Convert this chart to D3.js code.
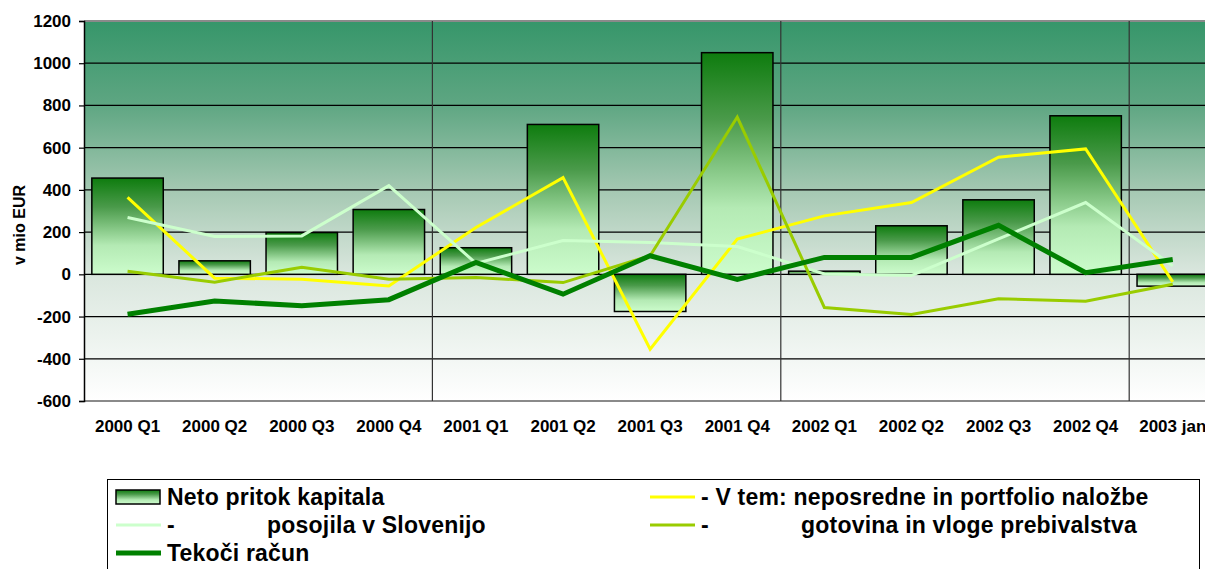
<!DOCTYPE html>
<html>
<head>
<meta charset="utf-8">
<script src="https://cdn.jsdelivr.net/npm/d3@7"></script>
<style>
  body { margin: 0; background: #fff; overflow: hidden; }
  text { font-family: "Liberation Sans", Arial, sans-serif; font-weight: bold; fill: #000; }
</style>
</head>
<body>
<svg></svg>
<script>
var width = 1205;
var height = 569;

// data (mio EUR)
var categories = ["2000 Q1", "2000 Q2", "2000 Q3", "2000 Q4", "2001 Q1", "2001 Q2", "2001 Q3",
                  "2001 Q4", "2002 Q1", "2002 Q2", "2002 Q3", "2002 Q4", "2003 jan"];
var netoPritok = [456, 64, 198, 307, 126, 710, -176, 1050, 15, 230, 353, 751, -56];
var naložbe   = [365, -18, -23, -55, 222, 458, -355, 167, 277, 340, 555, 594, -36];
var posojila  = [269, 179, 182, 420, 52, 160, 151, 132, 2, -6, 168, 340, 40];
var gotovina  = [15, -37, 34, -23, -15, -39, 88, 745, -157, -190, -116, -127, -47];
var tekoci    = [-189, -126, -149, -120, 56, -94, 88, -24, 80, 80, 232, 8, 70];
var yTicks = [-600, -400, -200, 0, 200, 400, 600, 800, 1000, 1200];

var seriesNames = ["Neto pritok kapitala", "- V tem: neposredne in portfolio naložbe",
                   "-              posojila v Slovenijo", "-              gotovina in vloge prebivalstva", "Tekoči račun"];

var lines = [
  {values: naložbe, color: "#ffff00", w: 3},
  {values: posojila, color: "#ccffcc", w: 3},
  {values: gotovina, color: "#99cc00", w: 3},
  {values: tekoci, color: "#008000", w: 5}
];

var plotLeft = 84, plotTop = 21, plotBottom = 401;
var step = 87.1;
var plotRight = plotLeft + step * categories.length;

var svg = d3.select("svg")
  .attr("width", width)
  .attr("height", height);

var defs = svg.append("defs");

var bg = defs.append("linearGradient")
  .attr("id", "bg").attr("x1", 0).attr("y1", 0).attr("x2", 0).attr("y2", 1);
bg.append("stop").attr("offset", "0%").attr("stop-color", "#36966a");
bg.append("stop").attr("offset", "22%").attr("stop-color", "#5ea682");
bg.append("stop").attr("offset", "45%").attr("stop-color", "#a6c9b3");
bg.append("stop").attr("offset", "66%").attr("stop-color", "#d9e6dd");
bg.append("stop").attr("offset", "100%").attr("stop-color", "#ffffff");

var barGrad = defs.append("linearGradient")
  .attr("id", "barGrad").attr("x1", 0).attr("y1", 0).attr("x2", 0).attr("y2", 1);
barGrad.append("stop").attr("offset", "0%").attr("stop-color", "#0e7c0e");
barGrad.append("stop").attr("offset", "30%").attr("stop-color", "#4a9a4a");
barGrad.append("stop").attr("offset", "70%").attr("stop-color", "#b4eab4");
barGrad.append("stop").attr("offset", "100%").attr("stop-color", "#ccfccc");

var xScale = d3.scaleBand()
  .domain(categories)
  .range([plotLeft, plotRight])
  .paddingInner(0.18)
  .paddingOuter(0.09);

var yScale = d3.scaleLinear()
  .domain([-600, 1200])
  .range([plotBottom, plotTop]);

// plot background
svg.append("rect")
  .attr("x", plotLeft)
  .attr("y", plotTop)
  .attr("width", plotRight - plotLeft)
  .attr("height", plotBottom - plotTop)
  .attr("fill", "url(#bg)");

// horizontal grid
svg.append("g")
  .selectAll("line")
  .data(yTicks.filter(d => d > -600 && d < 1200))
  .join("line")
  .attr("x1", plotLeft).attr("x2", plotRight)
  .attr("y1", d => yScale(d)).attr("y2", d => yScale(d))
  .attr("stroke", "#000").attr("stroke-width", 1.2);

// top and bottom border
svg.append("g")
  .selectAll("line")
  .data([1200, -600])
  .join("line")
  .attr("x1", plotLeft).attr("x2", plotRight)
  .attr("y1", d => yScale(d)).attr("y2", d => yScale(d))
  .attr("stroke", "#8a8a8a").attr("stroke-width", 2);

// vertical grid every four categories
svg.append("g")
  .selectAll("line")
  .data([4, 8, 12])
  .join("line")
  .attr("x1", d => plotLeft + d * xScale.step())
  .attr("x2", d => plotLeft + d * xScale.step())
  .attr("y1", plotTop).attr("y2", plotBottom)
  .attr("stroke", "#333").attr("stroke-width", 1.2);

// bars
svg.append("g")
  .selectAll("rect")
  .data(netoPritok)
  .join("rect")
  .attr("x", (d, i) => xScale(categories[i]))
  .attr("y", d => yScale(Math.max(0, d)))
  .attr("width", xScale.bandwidth())
  .attr("height", d => Math.abs(yScale(d) - yScale(0)))
  .attr("fill", "url(#barGrad)")
  .attr("stroke", "#000")
  .attr("stroke-width", 1.5);

// lines
var lineGen = d3.line()
  .x((d, i) => xScale(categories[i]) + xScale.bandwidth() / 2)
  .y(d => yScale(d));

svg.append("g")
  .selectAll("path")
  .data(lines)
  .join("path")
  .attr("d", d => lineGen(d.values))
  .attr("fill", "none")
  .attr("stroke", d => d.color)
  .attr("stroke-width", d => d.w)
  .attr("stroke-linejoin", "miter");

// y axis
var yAxis = svg.append("g")
  .attr("transform", `translate(${plotLeft}, 0)`)
  .call(d3.axisLeft(yScale).tickValues(yTicks).tickFormat(d => String(d)).tickSize(5).tickPadding(8));
yAxis.select(".domain").attr("stroke", "#000").attr("stroke-width", 1.5);
yAxis.selectAll(".tick line").attr("stroke", "#000").attr("stroke-width", 1.2);
yAxis.selectAll("text")
  .style("font-size", "17px")
  .style("font-weight", "bold")
  .style("font-family", "'Liberation Sans', Arial, sans-serif");

// x labels
svg.append("g")
  .selectAll("text")
  .data(categories)
  .join("text")
  .attr("x", d => xScale(d) + xScale.bandwidth() / 2)
  .attr("y", 432)
  .style("text-anchor", "middle")
  .style("font-size", "17px")
  .text(d => d);

svg.append("text")
  .attr("transform", "rotate(-90)")
  .attr("x", -225)
  .attr("y", 25)
  .style("text-anchor", "middle")
  .style("font-size", "16px")
  .text("v mio EUR");

// legend
var legend = svg.append("g");
legend.append("rect")
  .attr("x", 107.5).attr("y", 479.5)
  .attr("width", 1092).attr("height", 120)
  .attr("fill", "#fff").attr("stroke", "#000").attr("stroke-width", 1);

var legendItems = [
  {name: seriesNames[0], x: 116, y: 497, type: "bar"},
  {name: seriesNames[1], x: 650, y: 497, type: "line", color: "#ffff00", w: 3},
  {name: seriesNames[2], x: 116, y: 525, type: "line", color: "#ccffcc", w: 3},
  {name: seriesNames[3], x: 650, y: 525, type: "line", color: "#99cc00", w: 3},
  {name: seriesNames[4], x: 116, y: 553, type: "line", color: "#008000", w: 5}
];

legendItems.forEach(function(item) {
  if (item.type === "bar") {
    legend.append("rect")
      .attr("x", item.x).attr("y", item.y - 7)
      .attr("width", 44).attr("height", 14)
      .attr("fill", "url(#barGrad)")
      .attr("stroke", "#000").attr("stroke-width", 1.5);
  } else {
    legend.append("line")
      .attr("x1", item.x).attr("x2", item.x + 45)
      .attr("y1", item.y).attr("y2", item.y)
      .attr("stroke", item.color).attr("stroke-width", item.w);
  }
  legend.append("text")
    .attr("x", item.x + 51)
    .attr("y", item.y + 8)
    .style("font-size", "23px")
    .style("letter-spacing", "0.2px")
    .attr("xml:space", "preserve")
    .text(item.name);
});
</script>
</body>
</html>
